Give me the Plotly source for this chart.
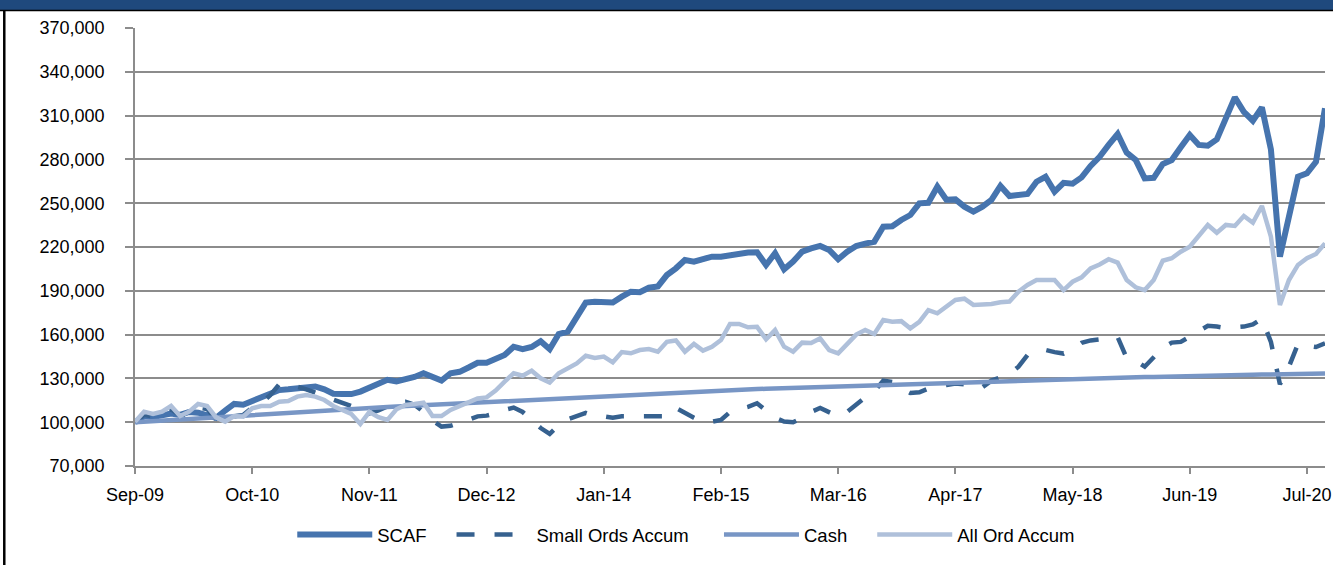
import pandas as pd
import plotly.graph_objects as go

# Monthly categories Sep-09 .. Sep-20
months = pd.date_range("2009-09-01", periods=133, freq="MS").strftime("%b-%y").tolist()
tick_labels = ["Sep-09", "Oct-10", "Nov-11", "Dec-12", "Jan-14", "Feb-15",
               "Mar-16", "Apr-17", "May-18", "Jun-19", "Jul-20"]
y_ticks = [70000, 100000, 130000, 160000, 190000, 220000, 250000, 280000, 310000, 340000, 370000]

scaf = [100000, 104000, 103500, 105000, 106000, 105000, 107000, 106500, 105000, 103000,
        108000, 112500, 112000, 114500, 117000, 120000, 122000, 122500, 123500, 124000,
        124500, 122500, 119500, 119300, 119300, 121000, 123500, 126000, 129000, 128000,
        129000, 131000, 133500, 130500, 128500, 133500, 134500, 137500, 140700, 140700,
        143500, 146000, 151700, 150000, 151500, 155500, 150000, 160400, 162000, 172000,
        181900, 182500, 182300, 182000, 186000, 189400, 189000, 192100, 193000, 200800,
        205400, 211100, 210000, 212000, 213400, 213400, 214500, 215700, 216200, 216400,
        207700, 215700, 204700, 210000, 216800, 219000, 220700, 218000, 211600, 216800,
        220700, 222300, 223600, 233900, 234200, 238500, 241900, 249900, 250300, 261300,
        252400, 252600, 247600, 244200, 247600, 252200, 261800, 254900, 255500, 256300,
        264700, 268100, 257900, 264000, 263400, 267700, 275500, 281800, 289900, 297400,
        284600, 279600, 267000, 267400, 276800, 279600, 288300, 296700, 289900, 289400,
        293700, 307400, 322500, 312600, 306500, 315600, 286900, 213400, 240800, 268100,
        270500, 278400, 315000]

small_ords = [100000, 105000, 104000, 106000, 109000, 104500, 106000, 110000, 109000, 102000,
              100500, 104000, 105000, 110000, 113000, 118500, 126000, 125000, 124300, 122500,
              120500, 118000, 115500, 113500, 111000, 108000, 106000, 108000, 111000, 113500,
              114000, 112000, 107000, 101000, 97000, 97500, 99500, 102000, 104000, 104500,
              106000, 108500, 110000, 107000, 101000, 96000, 92000, 98000, 102000, 104000,
              106300, 104000, 104000, 103000, 104000, 104000, 104000, 104000, 103500, 104000,
              109700, 106000, 103000, 100000, 100300, 101500, 107000, 109000, 110500, 113000,
              108000, 103000, 100500, 100000, 103000, 107000, 109700, 107000, 104000, 107000,
              112000, 117000, 121000, 128400, 127500, 123000, 120000, 120500, 123000, 124500,
              125500, 126500, 126000, 123500, 124000, 128500, 130500, 133000, 138000, 146000,
              149000, 149500, 148000, 147000, 150000, 154300, 156000, 156800, 157500, 158300,
              144000, 142000, 138000, 145000, 151000, 154500, 155000, 158600, 162000, 166000,
              165500, 164500, 165000, 165500, 167000, 171000, 155000, 126000, 138000, 153500,
              152500, 151500, 154000]

cash = [100000, 100400, 100800, 101100, 101500, 101900, 102300, 102600, 103000, 103400,
        103800, 104100, 104500, 104900, 105300, 105700, 106000, 106400, 106800, 107200,
        107500, 107900, 108300, 108700, 109000, 109400, 109800, 110100, 110400, 110700,
        111000, 111300, 111600, 111900, 112300, 112600, 112900, 113200, 113500, 113800,
        114100, 114500, 114800, 115200, 115500, 115900, 116200, 116600, 116900, 117300,
        117600, 118000, 118300, 118600, 118800, 119100, 119400, 119600, 119900, 120200,
        120500, 120700, 121000, 121300, 121500, 121800, 122000, 122200, 122400, 122700,
        122900, 123100, 123300, 123500, 123700, 123900, 124200, 124400, 124600, 124800,
        125000, 125200, 125400, 125600, 125800, 126000, 126200, 126400, 126600, 126800,
        127000, 127200, 127400, 127600, 127800, 127900, 128100, 128300, 128500, 128700,
        128900, 129000, 129200, 129400, 129600, 129800, 129900, 130100, 130200, 130400,
        130600, 130700, 130900, 131000, 131200, 131400, 131500, 131700, 131800, 131900,
        132000, 132200, 132300, 132400, 132500, 132600, 132700, 132800, 133000, 133100,
        133200, 133200, 133300]

all_ord = [100300, 107200, 105600, 107200, 111100, 104200, 107200, 112500, 111100, 103300,
           100300, 104200, 103800, 109500, 111100, 111100, 114000, 114500, 117500, 118600,
           117500, 115200, 111100, 108400, 105600, 98800, 107000, 103500, 101500, 108800,
           111800, 112500, 113400, 104200, 104200, 108400, 111100, 113400, 116300, 117000,
           121600, 127800, 133500, 131800, 135300, 130100, 127100, 133500, 136900, 140300,
           145500, 144000, 145000, 141000, 148000, 147200, 149400, 150100, 148300, 155100,
           156000, 148300, 153600, 149000, 151700, 156300, 167300, 167300, 165000, 165300,
           156800, 163100, 151700, 148300, 154500, 154200, 157400, 149400, 147200, 154000,
           160000, 163100, 160400, 170000, 168800, 169200, 164300, 168800, 176800, 174600,
           178700, 183700, 184600, 180300, 180600, 181000, 182200, 182700, 189400, 194000,
           197400, 197400, 197400, 190500, 196200, 199200, 205400, 208000, 211600, 209300,
           197400, 192400, 190500, 197400, 210600, 212300, 216800, 220200, 227500, 235100,
           229800, 235100, 234400, 241200, 236600, 248100, 227100, 180300, 197400, 207700,
           212300, 215200, 222500]

FONT = "Liberation Sans, Arial, sans-serif"

fig = go.Figure()
fig.add_trace(go.Scatter(x=months, y=scaf, name="SCAF", mode="lines",
                         line=dict(color="#4674AE", width=6), legend="legend"))
fig.add_trace(go.Scatter(x=months, y=small_ords, name="Small Ords Accum", mode="lines",
                         line=dict(color="#36618F", width=4.5, dash="18px,20px"), legend="legend2"))
fig.add_trace(go.Scatter(x=months, y=cash, name="Cash", mode="lines",
                         line=dict(color="#7896C5", width=4.5), legend="legend3"))
fig.add_trace(go.Scatter(x=months, y=all_ord, name="All Ord Accum", mode="lines",
                         line=dict(color="#AFC0DA", width=4.5), legend="legend4"))

# The viewer renders the figure ~8 px narrower than the requested width.
L, R, T, B = 135, 10, 28, 99
W, H = 1341, 565
pw, ph = (W - 8) - L - R, H - T - B

def px_x(px):
    return (px - L) / pw

def px_y(py):
    return (H - B - py) / ph

leg_common = dict(orientation="h", yanchor="middle", xanchor="left", y=px_y(535),
                  font=dict(family=FONT, size=18.5, color="#000000"),
                  bgcolor="rgba(0,0,0,0)", itemwidth=75, tracegroupgap=0)

fig.update_layout(
    width=W, height=H, autosize=False,
    margin=dict(l=L, r=R, t=T, b=B),
    paper_bgcolor="white", plot_bgcolor="white",
    showlegend=True,
    font=dict(family=FONT, size=18, color="#000000"),
    legend=dict(x=px_x(292), **leg_common),
    legend2=dict(x=px_x(451), **leg_common),
    legend3=dict(x=px_x(718), **leg_common),
    legend4=dict(x=px_x(871), **leg_common),
    xaxis=dict(type="category", range=[0, 132], tickmode="array",
               tickvals=tick_labels, ticktext=tick_labels,
               showgrid=False, showline=True, linecolor="#8C8C8C", linewidth=1.5,
               ticks="outside", ticklen=6, tickwidth=1.5, tickcolor="#8C8C8C",
               tickfont=dict(family=FONT, size=18, color="#000000"),
               ticklabelstandoff=6, zeroline=False),
    yaxis=dict(range=[70000, 370000], tickmode="array", tickvals=y_ticks,
               tickformat=",d", showgrid=True, gridcolor="#8C8C8C", gridwidth=1.5,
               showline=True, linecolor="#8C8C8C", linewidth=1.5,
               ticks="outside", ticklen=8, tickwidth=1.5, tickcolor="#8C8C8C",
               tickfont=dict(family=FONT, size=18, color="#000000"),
               ticklabelstandoff=17, zeroline=False),
    shapes=[
        dict(type="rect", xref="paper", yref="paper", x0=px_x(0), x1=px_x(W + 20),
             y0=px_y(10), y1=px_y(0), fillcolor="#1F497D", line=dict(width=0), layer="above"),
        dict(type="line", xref="paper", yref="paper", x0=px_x(0), x1=px_x(W + 20),
             y0=px_y(10.5), y1=px_y(10.5), line=dict(color="#000000", width=1.5)),
        dict(type="line", xref="paper", yref="paper", x0=px_x(4.5), x1=px_x(4.5),
             y0=px_y(10), y1=px_y(H), line=dict(color="#000000", width=2.5)),
    ],
)

fig.write_html("out.html",
               config={"displayModeBar": False, "responsive": False},
               post_script="document.body.style.margin='0';document.body.style.overflow='hidden';")
